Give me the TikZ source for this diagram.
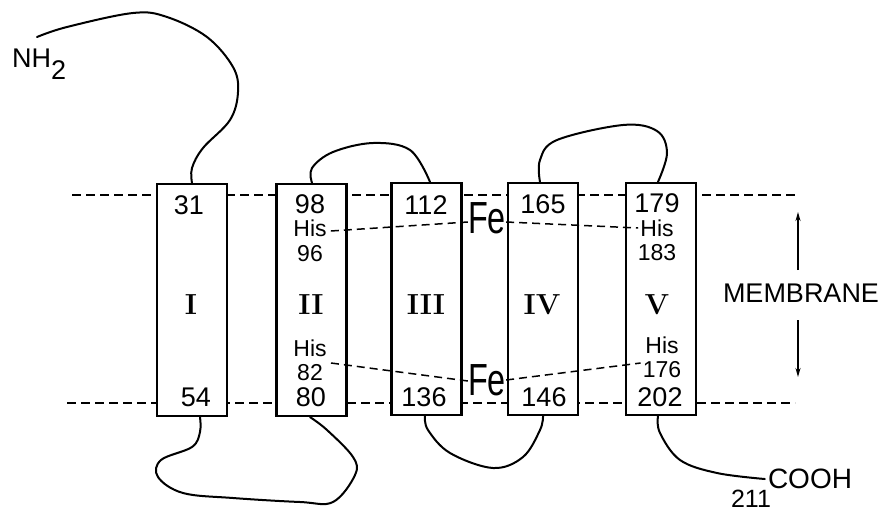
\documentclass[tikz,border=0pt]{standalone}
\usepackage{fontspec}
\newfontfamily\dinf{Liberation Sans}
\usetikzlibrary{arrows.meta}
\begin{document}
\begin{tikzpicture}[x=1pt,y=-1pt,
  tm/.style={draw, line width=2.2pt, fill=white, minimum width=70pt, minimum height=232pt, inner sep=0pt},
  memb/.style={line width=1.6pt, dash pattern=on 9pt off 5pt},
  fedash/.style={line width=1.5pt, dash pattern=on 8pt off 5pt},
  loopline/.style={line width=2pt, line cap=round, line join=round},
  bignum/.style={font=\dinf\fontsize{27}{27}\selectfont, inner sep=0pt},
  smalllab/.style={font=\dinf\fontsize{23}{23}\selectfont, inner sep=0pt},
  romanlab/.style={font=\bfseries\fontsize{29}{29}\selectfont, inner sep=0pt},
  felab/.style={font=\dinf\fontsize{45}{45}\selectfont, inner sep=0pt},
  arr/.style={line width=1.5pt, -{Stealth[length=9pt,width=5pt]}}
]
\fill[white] (0,0) rectangle (886,512);
\useasboundingbox (0,0) rectangle (886,512);

% membrane boundaries
\coordinate (mtl) at (72,195);
\coordinate (mtr) at (795,195);
\coordinate (mbl) at (67,403);
\coordinate (mbr) at (795,403);
\draw[memb] (mtl) -- (mtr);
\draw[memb] (mbl) -- (mbr);

% transmembrane segments
\node[tm] (I)   at (192,300)   {};
\node[tm] (II)  at (311.5,300) {};
\node[tm] (III) at (426.5,299) {};
\node[tm] (IV)  at (543,299)   {};
\node[tm] (V)   at (661,299)   {};

% numbers
\node[bignum] (n31)  at (189,205) {31};
\node[bignum] (n98)  at (310,204) {98};
\node[bignum] (n112) at (426,205) {112};
\node[bignum] (n165) at (543,204) {165};
\node[bignum] (n179) at (657,203) {179};
\node[bignum] (n54)  at (196,397) {54};
\node[bignum] (n80)  at (311,397) {80};
\node[bignum] (n136) at (424,397) {136};
\node[bignum] (n146) at (544,397) {146};
\node[bignum] (n202) at (660,397) {202};

% roman numerals
\node[romanlab] (rI)   at (191,305) {I};
\node[romanlab] (rII)  at (311,305) {II};
\node[romanlab] (rIII) at (426,305) {III};
\node[romanlab] (rIV)  at (542,305) {IV};
\node[romanlab] (rV)   at (657,305) {V};

% histidines
\node[smalllab] (h96)  at (310,228) {His};
\node[smalllab] (n96)  at (310,254) {96};
\node[smalllab] (h82)  at (310,348) {His};
\node[smalllab] (n82)  at (310,373) {82};
\node[smalllab] (h183) at (657,228) {His};
\node[smalllab] (n183) at (657,253) {183};
\node[smalllab] (h176) at (662,345) {His};
\node[smalllab] (n176) at (662,370) {176};

% iron atoms
\node[felab] (fe1) at (487,218) {\scalebox{0.72}[1]{Fe}};
\node[felab] (fe2) at (487,380) {\scalebox{0.72}[1]{Fe}};

% His-Fe-His ligation lines
\draw[fedash] ([shift={(4,3)}]h96.east) -- ([yshift=-4pt]fe1.west);
\draw[fedash] ([yshift=-4pt]fe1.east) -- ([shift={(-2,0)}]h183.west);
\draw[fedash] ([shift={(8,-10)}]n82.east) -- ([yshift=-1pt]fe2.west);
\draw[fedash] (fe2.east) -- ([shift={(-2,-7)}]n176.west);

% membrane label and arrows
\node[font=\dinf\fontsize{27}{27}\selectfont, inner sep=0pt] (mem) at (801,293) {MEMBRANE};
\coordinate (au0) at (798,270);
\coordinate (au1) at (798,212);
\coordinate (ad0) at (798,320);
\coordinate (ad1) at (798,377);
\draw[arr] (au0) -- (au1);
\draw[arr] (ad0) -- (ad1);

% termini
\node[font=\dinf\fontsize{27}{27}\selectfont, inner sep=0pt, anchor=base west] (nh2) at (12,67) {NH\raisebox{-12pt}{2}};
\node[font=\dinf\fontsize{28}{28}\selectfont, inner sep=0pt] (cooh) at (810,479) {COOH};
\node[font=\dinf\fontsize{25}{25}\selectfont, inner sep=0pt] (n211) at (751,499) {211};
\coordinate (nstart) at (37,37);
\coordinate (cend) at ([xshift=-3pt]cooh.west);

% anchor points on the segments
\coordinate (It)  at (I.north);
\coordinate (Ib)  at ([xshift=8pt]I.south);
\coordinate (IIt) at ([xshift=0.5pt]II.north);
\coordinate (IIb) at ([xshift=-1.5pt]II.south);
\coordinate (IIIt) at ([xshift=3.5pt]III.north);
\coordinate (IIIb) at ([xshift=-1.5pt]III.south);
\coordinate (IVt) at ([xshift=-3pt]IV.north);
\coordinate (IVb) at (IV.south);
\coordinate (Vt) at ([xshift=-3pt]V.north);
\coordinate (Vb) at ([xshift=-3pt]V.south);

% loops
\draw[loopline] plot[smooth, tension=0.6] coordinates {(nstart) (67,27) (133,13) (167,17) (207,37) (233,67) (238,92) (230,120) (203,148) (192,168) (It)};
\draw[loopline] plot[smooth, tension=0.6] coordinates {(IIt) (312,168) (333,152) (373,143) (410,150) (IIIt)};
\draw[loopline] plot[smooth, tension=0.6] coordinates {(IVt) (540,160) (557,140) (623,125) (657,131) (667,153) (Vt)};
\draw[loopline] plot[smooth, tension=0.6] coordinates {(Ib) (200,432) (192,447) (161,460) (158,477) (183,493) (233,498) (300,502) (333,502) (355,475) (353,457) (327,430) (IIb)};
\draw[loopline] plot[smooth, tension=0.6] coordinates {(IIIb) (428,430) (450,453) (493,468) (523,457) (540,430) (IVb)};
\draw[loopline] plot[smooth, tension=0.6] coordinates {(Vb) (660,433) (680,460) (717,473) (cend)};
\end{tikzpicture}
\end{document}
